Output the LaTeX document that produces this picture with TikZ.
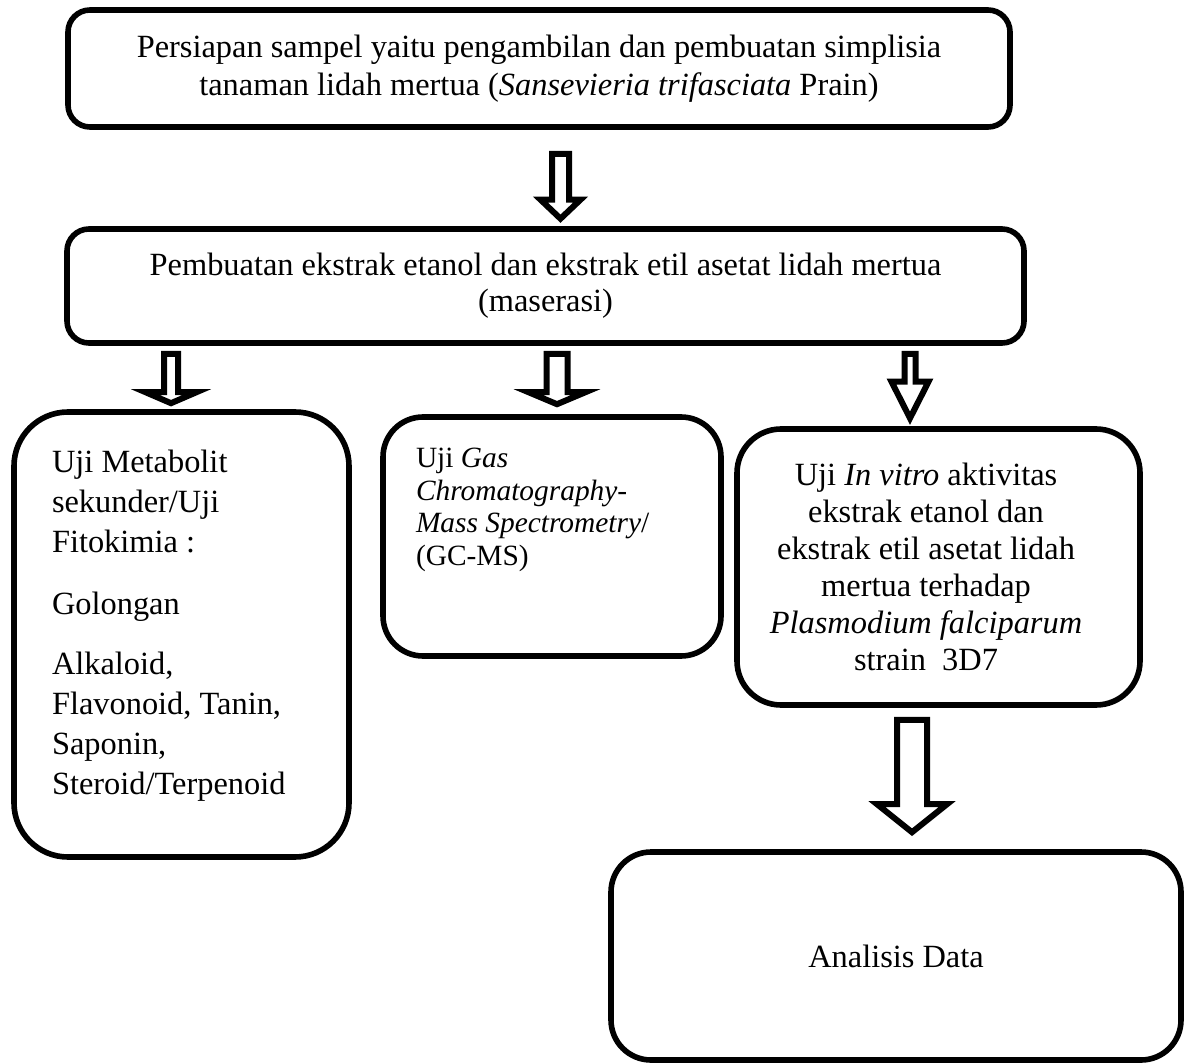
\documentclass[tikz,border=0pt]{standalone}
\usepackage{fontspec}
\setmainfont{Liberation Serif}
\usepackage{tikz}
\usetikzlibrary{positioning,calc}

% hollow block arrow: top, tip, shaft half width, head half width, head length (px)
\newcommand{\hollowarrow}[5]{%
  \draw[hollow] ([xshift=-#3*0.5pt]#1) -- ([xshift=#3*0.5pt]#1)
    -- ([xshift=#3*0.5pt,yshift=#5*0.5pt]#2) -- ([xshift=#4*0.5pt,yshift=#5*0.5pt]#2)
    -- (#2) -- ([xshift=-#4*0.5pt,yshift=#5*0.5pt]#2)
    -- ([xshift=-#3*0.5pt,yshift=#5*0.5pt]#2) -- cycle;}

\begin{document}
\begin{tikzpicture}[
    x=0.5pt, y=-0.5pt,
    box/.style={rectangle, draw, line width=2.8pt, align=center, inner sep=0pt,
                font=\fontsize{16.2}{19}\selectfont},
    hollow/.style={draw, fill=white, line width=3pt, line join=miter}
]
\useasboundingbox (0,0) rectangle (1187,1063);

% Main steps
\node[box, rounded corners=11pt, minimum width=471pt, minimum height=58.5pt] (prep) at (539,68.5)
    {Persiapan sampel yaitu pengambilan dan pembuatan simplisia\\
     tanaman lidah mertua (\textit{Sansevieria trifasciata} Prain)};
\node[box, rounded corners=11pt, minimum width=478.5pt, minimum height=57pt,
      font=\fontsize{16.2}{18}\selectfont] (ekstrak) at (545.5,286)
    {Pembuatan ekstrak etanol dan ekstrak etil asetat lidah mertua\\(maserasi)};

% Tests
\node[box, rounded corners=27pt, minimum width=167.5pt, minimum height=222.5pt,
      font=\fontsize{16.2}{20}\selectfont] (fito) at (181.5,634.5)
    {\parbox[c][184.5pt][t]{129.5pt}{\raggedright Uji Metabolit\\sekunder/Uji\\Fitokimia :\\[11pt]
     Golongan\\[10pt]Alkaloid,\\Flavonoid, Tanin,\\Saponin,\\Steroid/Terpenoid}};
\node[box, rounded corners=20pt, minimum width=169pt, minimum height=119.5pt,
      font=\fontsize{14.7}{16.3}\selectfont] (gcms) at (552,536.5)
    {\parbox[c][88.5pt][t]{136pt}{\raggedright Uji \textit{Gas}\\\textit{Chromatography-}\\
     \textit{Mass Spectrometry}/\\(GC-MS)}};
\node[box, rounded corners=22pt, minimum width=201.5pt, minimum height=138pt,
      font=\fontsize{16.2}{18.5}\selectfont] (invitro) at (938.5,567)
    {\parbox{170pt}{\centering Uji \textit{In vitro} aktivitas\\ekstrak etanol dan\\ekstrak etil asetat lidah\\
     mertua terhadap\\\textit{Plasmodium falciparum}\\strain\ \ 3D7}\hspace*{12.5pt}};

% Result
\node[box, rounded corners=20pt, minimum width=285pt, minimum height=104pt] (analisis) at (896,956)
    {Analisis Data};

% Arrow ends
\path (prep.south) ++(21.5,24) coordinate (a1top);
\path (ekstrak.north) ++(15,-7.5) coordinate (a1tip);
\path (fito.north |- ekstrak.south) ++(-10.5,8) coordinate (a2top);
\path (fito.north) ++(-10.5,-6) coordinate (a2tip);
\path (gcms.north |- ekstrak.south) ++(5,8) coordinate (a3top);
\path (gcms.north) ++(5,-10) coordinate (a3tip);
\path (invitro.north |- ekstrak.south) ++(-28.5,8) coordinate (a4top);
\path (invitro.north) ++(-28.5,-8) coordinate (a4tip);
\path (invitro.south) ++(-26.5,12) coordinate (a5top);
\path (analisis.north) ++(16,-17) coordinate (a5tip);

% Block arrows
\hollowarrow{a1top}{a1tip}{8.5}{20}{19}
\hollowarrow{a2top}{a2tip}{7}{25.5}{11}
\hollowarrow{a3top}{a3tip}{10.5}{28.5}{12}
\hollowarrow{a4top}{a4tip}{5.5}{18.5}{36.5}
\hollowarrow{a5top}{a5tip}{15}{35}{28}

\end{tikzpicture}
\end{document}
